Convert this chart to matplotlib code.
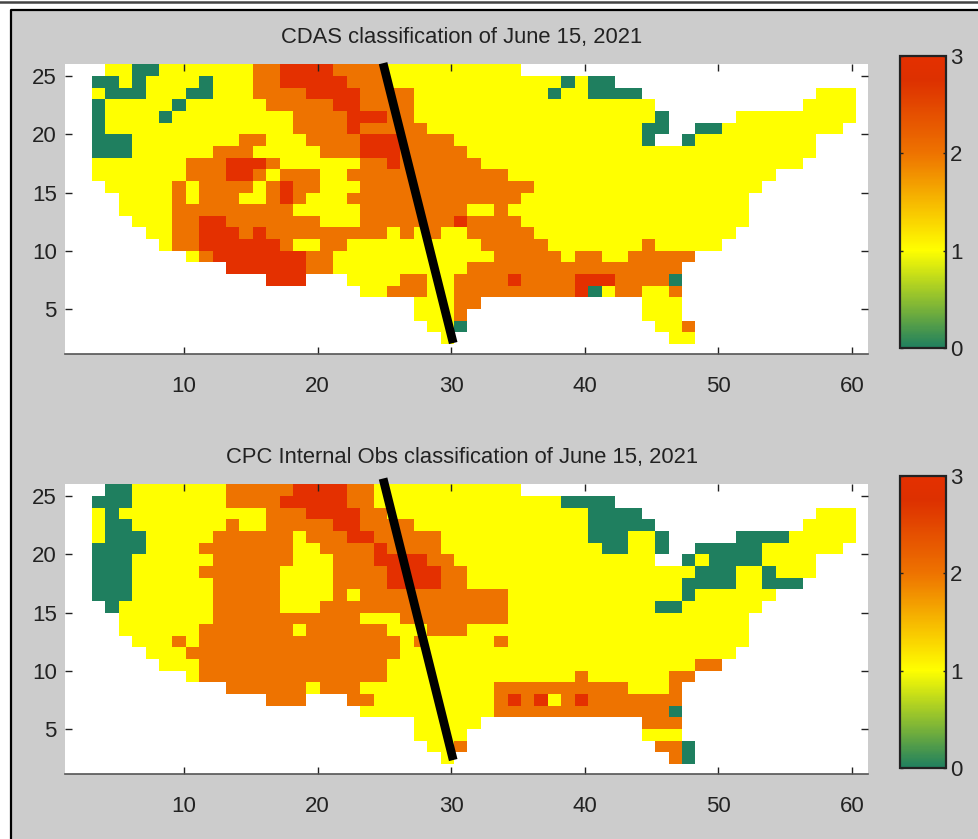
import numpy as np
import matplotlib
matplotlib.use('Agg')
import matplotlib.pyplot as plt
from matplotlib.colors import LinearSegmentedColormap
from matplotlib.patches import Rectangle

# each row is a list of (class, last column) runs starting at column 3, -1 = no data
rows = list(range(25, 1, -1))

cdas_runs = [
    [(-1,3),(1,5),(0,7),(1,14),(2,16),(3,20),(2,24),(1,34)],
    [(0,4),(1,5),(0,6),(1,10),(0,11),(1,14),(2,16),(3,21),(2,24),(1,37),(0,38),(1,39),(0,41)],
    [(1,3),(0,6),(1,9),(0,11),(1,14),(2,18),(3,22),(2,26),(1,36),(0,37),(1,39),(0,43),(-1,56),(1,59)],
    [(0,3),(1,8),(0,9),(1,15),(2,20),(3,22),(2,26),(1,44),(-1,55),(1,59)],
    [(0,3),(1,7),(0,8),(1,17),(2,21),(3,24),(2,26),(1,44),(0,45),(-1,50),(1,59)],
    [(0,3),(1,17),(2,21),(3,22),(2,27),(1,43),(0,45),(-1,47),(0,49),(1,58)],
    [(0,5),(1,13),(2,15),(1,18),(2,22),(3,25),(2,29),(1,43),(0,44),(-1,46),(0,47),(1,56)],
    [(0,5),(1,11),(2,14),(1,19),(2,22),(3,25),(2,30),(1,56)],
    [(1,9),(2,12),(3,15),(2,16),(1,22),(2,24),(3,25),(2,31),(1,55)],
    [(1,9),(2,12),(3,14),(2,15),(1,16),(2,19),(1,21),(2,33),(1,53)],
    [(-1,3),(1,8),(2,9),(1,10),(2,14),(1,15),(2,16),(3,17),(2,19),(1,22),(2,35),(1,52)],
    [(-1,4),(1,8),(2,9),(1,10),(2,13),(1,15),(2,16),(3,17),(2,18),(1,21),(2,34),(1,51)],
    [(-1,4),(1,8),(2,17),(1,22),(2,30),(1,32),(2,33),(1,51)],
    [(-1,5),(1,8),(2,10),(3,12),(2,19),(1,22),(2,29),(3,30),(2,34),(1,51)],
    [(-1,6),(1,8),(2,10),(3,13),(2,14),(3,15),(2,24),(1,25),(2,26),(1,27),(2,28),(1,30),(2,35),(1,50)],
    [(-1,7),(1,8),(2,10),(3,16),(2,17),(1,19),(2,21),(1,31),(2,36),(1,43),(2,44),(1,49)],
    [(-1,9),(1,10),(2,11),(3,18),(2,20),(1,32),(2,37),(1,38),(2,40),(1,42),(2,47)],
    [(-1,12),(3,18),(2,20),(1,30),(2,46)],
    [(-1,15),(3,18),(-1,21),(1,25),(2,27),(1,29),(2,33),(3,34),(2,38),(3,41),(2,45),(0,46)],
    [(-1,22),(1,24),(2,27),(1,29),(2,38),(3,39),(0,40),(1,41),(2,43),(1,45),(2,46)],
    [(-1,26),(1,29),(2,31),(-1,43),(1,46)],
    [(-1,26),(1,29),(2,30),(-1,43),(1,46)],
    [(-1,27),(1,29),(0,30),(-1,44),(1,46),(2,47)],
    [(-1,28),(1,29),(-1,45),(1,47)],
]

cpc_runs = [
    [(-1,3),(0,5),(1,12),(2,17),(3,21),(2,23),(1,34)],
    [(0,5),(1,12),(2,16),(3,21),(2,23),(1,37),(0,41)],
    [(1,3),(0,4),(1,15),(2,18),(3,22),(2,24),(1,39),(0,43),(-1,56),(1,59)],
    [(1,3),(0,5),(1,12),(2,13),(1,15),(2,20),(3,22),(2,26),(1,39),(0,44),(-1,55),(1,59)],
    [(1,3),(0,6),(1,11),(2,17),(1,18),(2,21),(3,23),(2,28),(1,39),(0,42),(1,44),(0,45),(-1,50),(0,54),(1,59)],
    [(0,6),(1,10),(2,17),(1,19),(2,23),(3,24),(2,28),(1,40),(0,42),(1,44),(0,45),(-1,47),(0,52),(1,58)],
    [(0,5),(1,11),(2,17),(1,20),(2,23),(3,27),(2,29),(1,44),(-1,46),(0,47),(1,48),(0,52),(1,56)],
    [(0,5),(1,10),(2,16),(1,20),(2,24),(3,28),(2,30),(1,47),(0,50),(1,52),(0,53),(1,56)],
    [(0,5),(1,11),(2,16),(1,20),(2,24),(3,28),(2,30),(1,46),(0,50),(1,52),(0,55)],
    [(0,5),(1,11),(2,16),(1,20),(2,21),(1,22),(2,33),(1,46),(0,47),(1,53)],
    [(-1,3),(0,4),(1,11),(2,16),(1,19),(2,33),(1,44),(0,46),(1,52)],
    [(-1,4),(1,11),(2,22),(1,25),(2,33),(1,51)],
    [(-1,4),(1,10),(2,17),(1,18),(2,24),(1,27),(2,30),(1,51)],
    [(-1,5),(1,8),(2,9),(1,10),(2,25),(1,26),(2,27),(1,32),(2,33),(1,51)],
    [(-1,6),(1,9),(2,25),(1,50)],
    [(-1,7),(1,10),(2,24),(1,47),(2,49)],
    [(-1,9),(1,10),(2,24),(1,38),(2,39),(1,45),(2,47)],
    [(-1,12),(2,18),(1,19),(2,22),(1,32),(2,42),(1,45),(2,46)],
    [(-1,15),(2,18),(-1,21),(2,23),(1,32),(2,33),(3,34),(2,35),(3,36),(1,37),(2,38),(3,39),(2,46)],
    [(-1,22),(1,32),(2,45),(0,46)],
    [(-1,26),(1,31),(-1,43),(2,46)],
    [(-1,26),(1,30),(-1,43),(1,46)],
    [(-1,27),(1,29),(2,30),(-1,44),(2,46),(0,47)],
    [(-1,28),(1,29),(-1,45),(2,46),(0,47)],
]

titles = ['CDAS classification of June 15, 2021',
          'CPC Internal Obs classification of June 15, 2021']
x_ticks = [10, 20, 30, 40, 50, 60]
y_ticks = [5, 10, 15, 20, 25]
cbar_ticks = [0, 1, 2, 3]
line_x = [24.9, 30.15]
line_y = [[26.1, 2.08], [26.5, 2.34]]

W, H = 979, 839
plt.rcParams['font.family'] = ['Liberation Sans', 'DejaVu Sans']
cmap = LinearSegmentedColormap.from_list(
    'cls', [(0, '#1f7f5f'), (1 / 3, '#ffff00'), (2 / 3, '#ee7300'), (0.92, '#dd3000'), (1, '#e43000')])


def to_grid(runs):
    grid = np.full((len(rows), 60), -1.0)
    for i, row in enumerate(runs):
        start = 3
        for value, last in row:
            grid[i, start:last + 1] = value
            start = last + 1
    return np.ma.masked_less(grid, 0)


def box(left, top, right, bottom):
    return [left / W, 1 - bottom / H, (right - left) / W, (bottom - top) / H]


fig = plt.figure(figsize=(W / 100, H / 100), dpi=100, facecolor='white')
fig.add_artist(Rectangle((12 / W, 0), (W - 12) / W, 1 - 11 / H, transform=fig.transFigure,
                         facecolor='#cccccc', edgecolor='none', zorder=-3))
fig.add_artist(plt.Line2D([11 / W, 11 / W, 1], [0, 1 - 10 / H, 1 - 10 / H], transform=fig.transFigure,
                          color='black', lw=1.6, zorder=-2))
fig.add_artist(plt.Line2D([0, 1], [1 - 1.5 / H, 1 - 1.5 / H], transform=fig.transFigure,
                          color='#444444', lw=1.8, zorder=-2))

for n, runs in enumerate([cdas_runs, cpc_runs]):
    dy = 420 * n
    ax = fig.add_axes(box(65, 64 + dy, 868, 354 + dy))
    # cells come out a touch wider than one tick unit in the original
    x_edges = 3.1 + (np.arange(61) - 3) * 1.004
    y_edges = np.arange(26, 1, -1)
    mesh = ax.pcolormesh(x_edges, y_edges, to_grid(runs), cmap=cmap, vmin=0, vmax=3)
    ax.set_facecolor('white')
    ax.set_xlim(1.09, 61.2)
    ax.set_ylim(1.14, 26.03)
    ax.set_xticks(x_ticks)
    ax.set_yticks(y_ticks)
    ax.tick_params(direction='in', length=5, width=1, top=True, right=True, labelsize=16,
                   colors='#222222')
    ax.tick_params(axis='x', pad=16)
    ax.tick_params(axis='y', pad=6)
    for side in ['top', 'right', 'left']:
        ax.spines[side].set_visible(False)
    ax.spines['bottom'].set_color('#555555')
    ax.spines['bottom'].set_linewidth(1.2)
    ax.set_title(titles[n], fontsize=15.8, color='#222222', pad=15, x=0.494)
    ax.plot(line_x, line_y[n], color='black', lw=6.3, solid_capstyle='butt', clip_on=False)

    cax = fig.add_axes(box(900, 56 + dy, 946, 348 + dy))
    cbar = fig.colorbar(mesh, cax=cax, ticks=cbar_ticks)
    cbar.outline.set_edgecolor('#222222')
    cbar.outline.set_linewidth(1.6)
    cax.tick_params(direction='in', length=2, width=1, left=True, right=True, labelsize=16,
                    colors='#222222', pad=3)

fig.savefig('out.png', dpi=100, facecolor=fig.get_facecolor())
